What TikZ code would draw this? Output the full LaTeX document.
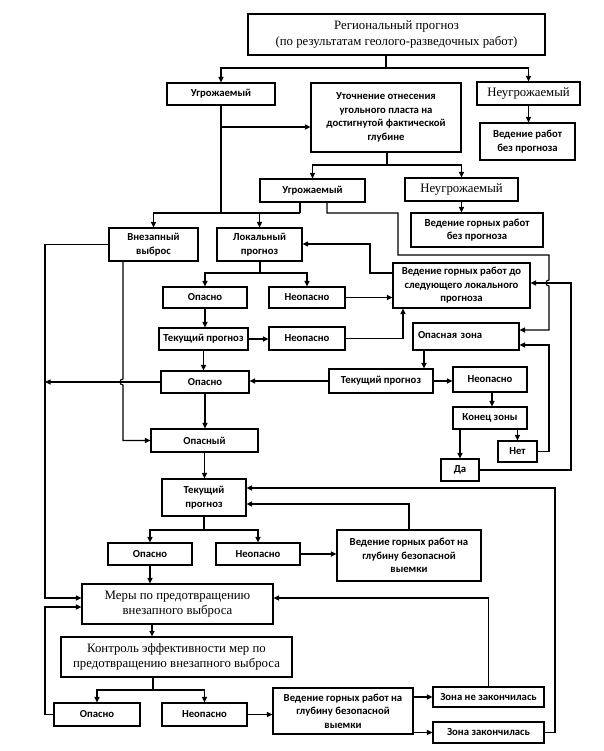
\documentclass[tikz,border=0pt]{standalone}
\usepackage{fontspec}
\setmainfont{Liberation Serif}
\newfontfamily\bsans{Carlito}
\usetikzlibrary{arrows.meta}
\newcommand\bx[7][box]{\node[#1,minimum width=#5-#3,minimum height=#6-#4] (#2) at ({(#3+#5)/2},{(#4+#6)/2}) {#7};}
\begin{document}
\begin{tikzpicture}[x=1pt,y=-1pt,
  box/.style={draw,line width=1.1pt,inner sep=1pt,align=center,font=\bsans\bfseries\fontsize{10.7}{13.5}\selectfont},
  sbox/.style={box,font=\rmfamily\fontsize{12.8}{15.5}\selectfont},
  ln/.style={line width=1.1pt},
  arr/.style={line width=1.1pt,-{Triangle[length=5.5pt,width=5pt]}}]
\useasboundingbox[fill=white] (0,0) rectangle (604,751);
% helper x positions
\coordinate (x45) at (45,0);
\coordinate (x123) at (123,0);
\coordinate (x152) at (152,0);
\coordinate (x327) at (327,0);
\coordinate (x370) at (370,0);
\coordinate (x403) at (403,0);
\coordinate (x424) at (424,0);
\coordinate (x492) at (492,0);
\coordinate (y127) at (0,127);
\coordinate (y244) at (0,244);
\coordinate (y273) at (0,273);
\coordinate (y283) at (0,283);
\coordinate (y330) at (0,330);
\coordinate (y345) at (0,345);
\coordinate (y488) at (0,488);
\coordinate (y504) at (0,504);
\coordinate (y598) at (0,598);
\coordinate (y607) at (0,607);
\coordinate (y697) at (0,697);
\coordinate (y732) at (0,732.5);
% boxes
\bx[sbox]{top}{248}{14}{545}{55}{Региональный прогноз\\(по результатам геолого-разведочных работ)}
\bx{u1}{167}{83}{275}{105}{Угрожаемый}
\bx{ut}{311}{83}{461}{152}{Уточнение отнесения\\угольного пласта на\\достигнутой фактической\\глубине}
\bx[sbox]{n1}{477}{82}{580}{105}{Неугрожаемый}
\bx{vb1}{480}{123}{575}{160}{Ведение работ\\без прогноза}
\bx{u2}{260}{179}{365}{202}{Угрожаемый}
\bx[sbox]{n2}{405}{178}{518}{201}{Неугрожаемый}
\bx{vb2}{411}{213}{543}{247}{Ведение горных работ\\без прогноза}
\bx{vv}{109}{228}{198}{261}{Внезапный\\выброс}
\bx{lp}{217}{228}{302}{261}{Локальный\\прогноз}
\bx{vd}{393}{263}{530}{308}{Ведение горных работ до\\следующего локального\\прогноза}
\bx{o1}{163}{287}{247}{308}{Опасно}
\bx{no1}{269}{287}{345}{308}{Неопасно}
\bx{t1}{159}{328}{248}{350}{Текущий прогноз}
\bx{no2}{269}{327}{345}{350}{Неопасно}
\bx[box,align=left,text width=96]{oz}{413}{323}{519}{350}{\raisebox{3.5pt}{Опасная зона}}
\bx{o2}{161}{371}{249}{393}{Опасно}
\bx{t3}{329}{369}{433}{393}{Текущий прогноз}
\bx{no3}{453}{367}{527}{392}{Неопасно}
\bx{kz}{453}{407}{527}{429}{Конец зоны}
\bx{net}{498}{441}{537}{462}{Нет}
\bx{da}{441}{459}{479}{481}{Да}
\bx{op}{151}{429}{258}{452}{Опасный}
\bx{t2}{162}{479}{246}{516}{Текущий\\прогноз}
\bx{o3}{108}{543}{192}{565}{Опасно}
\bx{no4}{216}{543}{300}{565}{Неопасно}
\bx{ved1}{337}{530}{481}{581}{Ведение горных работ на\\глубину безопасной\\выемки}
\bx[sbox]{me}{82}{584}{273}{624}{Меры по предотвращению\\внезапного выброса}
\bx[sbox]{ko}{61}{637}{292}{677}{Контроль эффективности мер по\\предотвращению внезапного выброса}
\bx{o4}{54}{703}{140}{726}{Опасно}
\bx{no5}{162}{703}{247}{726}{Неопасно}
\bx{ved2}{273}{688}{413}{734}{Ведение горных работ на\\глубину безопасной\\выемки}
\bx{zn}{433}{687}{544}{707}{Зона не закончилась}
\bx{zz}{433}{722}{544}{743}{Зона закончилась}
% connectors - top
\coordinate (b0) at (386,68);
\draw[ln] (top.south -| b0) -- (b0);
\draw[arr] (b0) -| (u1.north);
\draw[arr] (b0) -| (n1.north);
\draw[arr] (n1.south) -- (n1.south |- vb1.north);
\draw[ln] (u1.south) -- (221,213);
\draw[arr] (u1.south |- y127) -- (ut.west |- y127);
\coordinate (b1) at (387,165);
\draw[ln] (ut.south -| b1) -- (b1);
\draw[arr] (b1) -| (u2.north);
\draw[arr] (b1) -| (n2.north);
\draw[arr] (n2.south) -- (n2.south |- vb2.north);
\coordinate (b2) at (300,213);
\draw[ln] (u2.south -| b2) -- (b2);
\draw[arr] (b2) -| (vv.north);
\draw[arr] (b2) -| (lp.north);
% loop from u2 to dangerous zone
\draw[arr] (u2.south -| x327) -- (327,213) -- (398,213) -- (398,255) -- (549,255) -- (549,280)
  .. controls (545,280) and (545,286) .. (549,286) -- (549,330) -- (oz.east |- y330);
% local forecast
\coordinate (b3) at (260,273);
\draw[ln] (lp.south -| b3) -- (b3);
\draw[arr] (b3) -| (o1.north);
\draw[arr] (b3) -| (no1.north);
\draw[arr] (no1.east) -- (no1.east -| vd.west);
\draw[arr] (vd.west |- y273) -| (x370 |- y244) -- (lp.east |- y244);
\draw[arr] (o1.south) -- (o1.south |- t1.north);
\draw[arr] (t1.east) -- (t1.east -| no2.west);
\draw[arr] (no2.east) -| (vd.south -| x403);
\draw[arr] (t1.south) -- (t1.south |- o2.north);
% left side lines
\coordinate (L1) at (45,382);
\draw[arr] (o2.west) -- (L1);
\draw[arr] (vv.west) -| (x45 |- y598) -- (me.west |- y598);
\draw[arr] (vv.south -| x123) -- (123,379) .. controls (119,379) and (119,385) .. (123,385) -- (123,440.5) -- (op.west);
\draw[arr] (o2.south) -- (o2.south |- op.north);
\draw[arr] (op.south) -- (op.south |- t2.north);
% right side
\draw[arr] (t3.west) -- (t3.west -| o2.east);
\draw[arr] (t3.east) -- (t3.east -| no3.west);
\draw[arr] (oz.south -| x424) -- (t3.north -| x424);
\draw[arr] (no3.south -| x492) -- (kz.north -| x492);
\draw[arr] (kz.south -| da.north) -- (da.north);
\draw[arr] (kz.south -| net.north) -- (net.north);
\draw[arr] (net.east) -- (549,451.5) -- (549,345) -- (oz.east |- y345);
\draw[arr] (da.east) -- (571,470) -- (571,283) -- (vd.east |- y283);
% bottom
\coordinate (b4) at (204,530);
\draw[ln] (t2.south) -- (b4);
\draw[arr] (b4) -| (o3.north);
\draw[arr] (b4) -| (no4.north);
\draw[arr] (no4.east) -- (no4.east -| ved1.west);
\draw[arr] (ved1.north) |- (t2.east |- y504);
\draw[arr] (o3.south) -- (o3.south |- me.north);
\draw[arr] (zn.north) |- (me.east |- y598);
\draw[arr] (zz.east) -- (555,732.5) -- (555,488) -- (t2.east |- y488);
\draw[arr] (me.south -| x152) -- (ko.north -| x152);
\coordinate (b5) at (153,690);
\draw[ln] (ko.south -| b5) -- (b5);
\draw[arr] (b5) -| (o4.north);
\draw[arr] (b5) -| (no5.north);
\draw[arr] (o4.west) -| (x45 |- y607) -- (me.west |- y607);
\draw[arr] (no5.east) -- (no5.east -| ved2.west);
\draw[arr] (ved2.east |- y697) -- (zn.west |- y697);
\draw[arr] (ved2.east |- y732) -- (zz.west |- y732);
\end{tikzpicture}
\end{document}
